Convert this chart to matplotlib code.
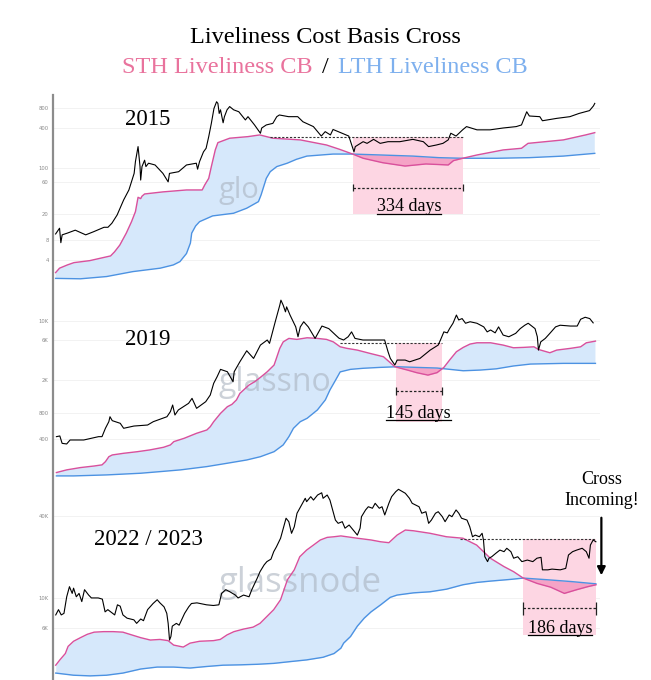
import matplotlib
matplotlib.use("Agg")
import matplotlib.pyplot as plt
from matplotlib.ticker import NullLocator
from matplotlib.lines import Line2D
import numpy as np

plt.rcParams.update({'font.family': 'Liberation Serif'})

# ---------------- 2015 cycle ----------------
p1_x = [2012.65, 2012.68, 2012.69, 2012.70, 2012.74, 2012.80, 2012.88, 2012.94, 2013.02, 2013.05,
        2013.08, 2013.12, 2013.17, 2013.21, 2013.25, 2013.26, 2013.28, 2013.295, 2013.30, 2013.31,
        2013.33, 2013.34, 2013.36, 2013.41, 2013.47, 2013.51, 2013.52, 2013.59, 2013.65, 2013.725,
        2013.735, 2013.75, 2013.78, 2013.80, 2013.82, 2013.84, 2013.86, 2013.88, 2013.89, 2013.90,
        2013.91, 2013.93, 2013.94, 2013.96, 2013.98, 2014.01, 2014.05, 2014.10, 2014.12, 2014.17,
        2014.215, 2014.225, 2014.26, 2014.31, 2014.34, 2014.36, 2014.43, 2014.50, 2014.54, 2014.62,
        2014.68, 2014.71, 2014.75, 2014.77, 2014.81, 2014.89, 2014.90, 2014.93, 2014.94, 2015.00,
        2015.03, 2015.08, 2015.13, 2015.19, 2015.28, 2015.38, 2015.46, 2015.50, 2015.56, 2015.61,
        2015.65, 2015.67, 2015.71, 2015.76, 2015.79, 2015.87, 2015.97, 2016.07, 2016.17, 2016.21,
        2016.23, 2016.25, 2016.27, 2016.35, 2016.37, 2016.48, 2016.58, 2016.65, 2016.73, 2016.76,
        2016.77]
p1_price = [9.9, 12.1, 7.3, 9.6, 10.2, 11.3, 9.6, 10.7, 12.5, 12.5,
            14.4, 19.2, 32.5, 46, 82, 124, 209, 104, 65, 104,
            130, 104, 117, 110, 82, 61, 82, 87, 110, 117,
            95, 124, 174, 197, 296, 470, 790, 1000, 945, 665,
            755, 480, 594, 755, 845, 755, 705, 530, 594, 445,
            333, 400, 445, 470, 594, 630, 594, 594, 497, 420,
            302, 352, 314, 380, 352, 302, 264, 174, 209, 248,
            234, 269, 234, 248, 248, 269, 248, 209, 221, 234,
            264, 333, 302, 375, 420, 375, 375, 400, 420, 445,
            560, 705, 608, 594, 515, 560, 594, 665, 734, 865,
            945]
p1_sth_x = [2012.65, 2012.68, 2012.74, 2012.79, 2012.91, 2013.07, 2013.10, 2013.14, 2013.19, 2013.23,
            2013.26, 2013.28, 2013.30, 2013.31, 2013.33, 2013.47, 2013.65, 2013.77, 2013.79, 2013.82,
            2013.84, 2013.87, 2013.89, 2013.98, 2014.12, 2014.21, 2014.31, 2014.52, 2014.72, 2014.82,
            2014.92, 2015.00, 2015.15, 2015.32, 2015.48, 2015.65, 2015.69, 2015.76, 2015.87, 2016.07,
            2016.21, 2016.26, 2016.53, 2016.70, 2016.77]
p1_sth = [2.57, 3.0, 3.36, 3.64, 3.9, 4.6, 5.3, 6.7, 10.2, 15.2,
          21.6, 35.6, 34, 37, 40, 43, 46, 46, 55, 69,
          104, 186, 240, 280, 296, 314, 280, 264, 221, 190,
          161, 139, 119, 106, 114, 110, 128, 139, 156, 186,
          197, 234, 264, 314, 340]
p1_lth_x = [2012.65, 2012.84, 2013.04, 2013.24, 2013.45, 2013.55, 2013.60, 2013.65, 2013.68, 2013.69,
            2013.72, 2013.75, 2013.85, 2014.01, 2014.11, 2014.20, 2014.22, 2014.26, 2014.29, 2014.34,
            2014.42, 2014.49, 2014.57, 2014.77, 2014.92, 2015.13, 2015.38, 2015.58, 2015.76, 2016.02,
            2016.27, 2016.53, 2016.77]
p1_lth = [2.1, 2.07, 2.24, 2.66, 3.0, 3.36, 3.77, 5.0, 7.2, 10.2,
          13.1, 15.2, 18.6, 20.4, 24.3, 30.6, 38.6, 69, 87, 104,
          117, 134, 150, 161, 161, 156, 150, 142, 139, 139,
          142, 150, 165]

# ---------------- 2019 cycle ----------------
p2_x = [2015.99, 2016.02, 2016.04, 2016.08, 2016.11, 2016.23, 2016.36, 2016.39, 2016.42, 2016.45,
        2016.46, 2016.48, 2016.55, 2016.58, 2016.67, 2016.79, 2016.84, 2016.96, 2016.99, 2017.01,
        2017.03, 2017.06, 2017.15, 2017.18, 2017.22, 2017.30, 2017.34, 2017.37, 2017.40, 2017.43,
        2017.49, 2017.54, 2017.55, 2017.60, 2017.66, 2017.72, 2017.78, 2017.84, 2017.86, 2017.91,
        2017.95, 2017.96, 2017.98, 2018.00, 2018.01, 2018.04, 2018.09, 2018.11, 2018.13, 2018.16,
        2018.20, 2018.26, 2018.32, 2018.38, 2018.44, 2018.47, 2018.51, 2018.55, 2018.58, 2018.61,
        2018.68, 2018.77, 2018.87, 2018.90, 2018.92, 2018.96, 2018.98, 2019.05, 2019.09, 2019.18,
        2019.27, 2019.34, 2019.36, 2019.39, 2019.42, 2019.44, 2019.47, 2019.50, 2019.52, 2019.55,
        2019.58, 2019.62, 2019.68, 2019.74, 2019.77, 2019.80, 2019.84, 2019.87, 2019.91, 2019.96,
        2020.02, 2020.06, 2020.10, 2020.13, 2020.19, 2020.21, 2020.22, 2020.24, 2020.28, 2020.32,
        2020.37, 2020.41, 2020.50, 2020.56, 2020.59, 2020.63, 2020.67, 2020.70]
p2_price = [423, 431, 352, 346, 386, 386, 423, 423, 532, 638,
            731, 656, 610, 532, 566, 582, 638, 731, 840, 1008,
            766, 880, 1056, 1210, 920, 1104, 1326, 1828, 2188, 2680,
            2512, 1910, 2512, 3304, 4466, 3620, 5220, 6000, 5470, 9880,
            15600, 17900, 15600, 13000, 14900, 11900, 8600, 6560, 8600, 9900,
            8600, 6270, 8800, 8200, 6870, 6300, 6000, 6560, 7500, 6270,
            6000, 6000, 6000, 4350, 3620, 3020, 3460, 3460, 3300, 3620,
            4550, 5220, 6000, 7500, 7300, 8200, 9500, 11900, 10400, 10800,
            9500, 9900, 9500, 8600, 7500, 7900, 7300, 8600, 6870, 6560,
            7200, 8200, 9000, 9500, 8200, 6560, 4550, 5700, 6270, 7200,
            8600, 9000, 8800, 8800, 10600, 11200, 10800, 9600]
p2_sth_x = [2015.99, 2016.08, 2016.20, 2016.32, 2016.39, 2016.42, 2016.45, 2016.48, 2016.58, 2016.70,
            2016.81, 2016.93, 2016.99, 2017.02, 2017.11, 2017.22, 2017.31, 2017.34, 2017.37, 2017.43,
            2017.49, 2017.53, 2017.57, 2017.60, 2017.68, 2017.73, 2017.78, 2017.84, 2017.90, 2017.92,
            2017.95, 2017.98, 2018.03, 2018.10, 2018.19, 2018.28, 2018.36, 2018.42, 2018.48, 2018.54,
            2018.63, 2018.74, 2018.86, 2018.96, 2019.07, 2019.15, 2019.25, 2019.33, 2019.39, 2019.44,
            2019.50, 2019.56, 2019.62, 2019.68, 2019.80, 2019.91, 2020.00, 2020.09, 2020.18, 2020.22,
            2020.32, 2020.38, 2020.50, 2020.59, 2020.64, 2020.72]
p2_sth = [158, 170, 181, 189, 195, 213, 244, 256, 268, 280,
          294, 316, 337, 369, 404, 464, 508, 556, 638, 802,
          962, 1026, 1160, 1388, 1744, 1910, 2152, 2512, 3020, 3620,
          4770, 5700, 6270, 6100, 6380, 6270, 6100, 5700, 4980, 4770,
          4550, 4160, 3790, 2880, 2630, 2450, 2290, 2450, 2830, 3460,
          4350, 4900, 5370, 5560, 5560, 5220, 4850, 4900, 4980, 4630,
          4230, 4550, 4770, 4980, 5560, 5820]
p2_lth_x = [2015.99, 2016.14, 2016.43, 2016.73, 2016.90, 2017.08, 2017.31, 2017.49, 2017.66, 2017.78,
            2017.90, 2017.98, 2018.03, 2018.07, 2018.13, 2018.19, 2018.28, 2018.35, 2018.39, 2018.44,
            2018.48, 2018.57, 2018.68, 2018.83, 2018.98, 2019.15, 2019.33, 2019.56, 2019.71, 2019.85,
            2020.00, 2020.15, 2020.44, 2020.72]
p2_lth = [144, 144, 148, 155, 162, 170, 186, 204, 223, 244,
          280, 337, 423, 532, 638, 700, 880, 1160, 1520, 2000,
          2500, 2680, 2760, 2830, 2880, 2830, 2780, 2580, 2630, 2720,
          2940, 3100, 3160, 3160]

# ---------------- 2022/2023 cycle ----------------
p3_x = [2019.36, 2019.38, 2019.40, 2019.42, 2019.44, 2019.46, 2019.48, 2019.49, 2019.51, 2019.53,
        2019.55, 2019.57, 2019.60, 2019.62, 2019.67, 2019.70, 2019.72, 2019.74, 2019.79, 2019.81,
        2019.83, 2019.85, 2019.88, 2019.93, 2019.95, 2019.98, 2020.00, 2020.03, 2020.07, 2020.10,
        2020.12, 2020.15, 2020.17, 2020.18, 2020.19, 2020.20, 2020.21, 2020.24, 2020.26, 2020.29,
        2020.30, 2020.33, 2020.35, 2020.39, 2020.46, 2020.51, 2020.55, 2020.57, 2020.60, 2020.63,
        2020.67, 2020.69, 2020.73, 2020.77, 2020.79, 2020.83, 2020.85, 2020.88, 2020.90, 2020.93,
        2020.95, 2020.97, 2021.00, 2021.02, 2021.04, 2021.06, 2021.08, 2021.10, 2021.12, 2021.14,
        2021.16, 2021.18, 2021.19, 2021.22, 2021.24, 2021.27, 2021.30, 2021.31, 2021.34, 2021.36,
        2021.38, 2021.40, 2021.42, 2021.45, 2021.47, 2021.50, 2021.53, 2021.56, 2021.58, 2021.59,
        2021.62, 2021.64, 2021.67, 2021.69, 2021.72, 2021.74, 2021.76, 2021.79, 2021.81, 2021.84,
        2021.86, 2021.89, 2021.91, 2021.94, 2021.96, 2022.01, 2022.03, 2022.06, 2022.08, 2022.10,
        2022.13, 2022.15, 2022.18, 2022.20, 2022.23, 2022.25, 2022.28, 2022.30, 2022.32, 2022.36,
        2022.38, 2022.40, 2022.42, 2022.45, 2022.47, 2022.48, 2022.49, 2022.51, 2022.52, 2022.54,
        2022.57, 2022.60, 2022.63, 2022.65, 2022.68, 2022.70, 2022.73, 2022.76, 2022.80, 2022.84,
        2022.87, 2022.90, 2022.91, 2022.95, 2022.98, 2023.04, 2023.08, 2023.10, 2023.13, 2023.16,
        2023.20, 2023.23, 2023.25, 2023.26, 2023.28, 2023.30]
p3_price = [7500, 8200, 7500, 7700, 10200, 12100, 10800, 11800, 10200, 10800,
            9400, 11500, 10500, 10000, 10000, 9800, 7900, 8200, 7500, 8900,
            8700, 7500, 7100, 6900, 6500, 7000, 6800, 8200, 9100, 9700,
            9200, 8600, 7700, 6500, 4900, 5200, 6200, 6500, 6300, 7300,
            7700, 8600, 9100, 9200, 8900, 8800, 8900, 10800, 11500, 11100,
            10500, 10000, 10500, 10200, 11500, 14000, 15600, 17500, 18500, 19300,
            21900, 23800, 27500, 32600, 38600, 36400, 29900, 33400, 42000, 45700,
            49700, 54100, 51100, 55600, 52500, 57200, 59400, 54100, 57200, 52500,
            44400, 37400, 35400, 36400, 32600, 34400, 31600, 29000, 32600, 39600,
            44400, 46900, 45700, 49700, 45700, 46900, 40800, 49700, 55600, 60500,
            63000, 60500, 58900, 54100, 49700, 46900, 42000, 43100, 35400, 37400,
            42000, 43100, 39600, 36400, 40800, 39600, 44400, 42000, 38600, 37400,
            33400, 28200, 29000, 28200, 29900, 26700, 20100, 18500, 19600, 20100,
            21300, 22500, 21900, 23200, 21900, 19600, 20100, 18500, 19000, 18500,
            19600, 19900, 16100, 16100, 16300, 16100, 16500, 20700, 21900, 22500,
            23200, 21900, 19600, 24500, 26700, 25900]
p3_sth_x = [2019.36, 2019.39, 2019.43, 2019.45, 2019.49, 2019.54, 2019.59, 2019.64, 2019.71, 2019.78,
            2019.85, 2019.90, 2019.98, 2020.05, 2020.12, 2020.18, 2020.22, 2020.29, 2020.34, 2020.41,
            2020.51, 2020.56, 2020.61, 2020.66, 2020.73, 2020.80, 2020.85, 2020.90, 2020.95, 2021.00,
            2021.05, 2021.10, 2021.14, 2021.19, 2021.24, 2021.29, 2021.34, 2021.39, 2021.44, 2021.56,
            2021.66, 2021.73, 2021.79, 2021.85, 2021.91, 2021.97, 2022.09, 2022.21, 2022.33, 2022.43,
            2022.53, 2022.63, 2022.70, 2022.77, 2022.87, 2022.97, 2023.07, 2023.16, 2023.24, 2023.30]
p3_sth = [3200, 3500, 3900, 4400, 4800, 5100, 5400, 5600, 5650, 5650,
          5600, 5400, 5100, 4900, 4950, 4850, 4500, 4350, 4650, 4800,
          4850, 4950, 5350, 5650, 5900, 6100, 6500, 7300, 8200, 9700,
          13600, 16100, 20100, 22500, 24500, 26700, 27900, 28200, 28600, 27500,
          26700, 25900, 25500, 29000, 31600, 31200, 29900, 28200, 27500, 24500,
          19600, 17000, 15600, 14000, 12800, 12000, 10800, 11500, 12100, 12500]
p3_lth_x = [2019.36, 2019.49, 2019.61, 2019.73, 2019.85, 2019.98, 2020.10, 2020.22, 2020.34, 2020.46,
            2020.58, 2020.71, 2020.83, 2020.95, 2021.07, 2021.19, 2021.31, 2021.39, 2021.44, 2021.46,
            2021.51, 2021.56, 2021.61, 2021.66, 2021.73, 2021.80, 2021.85, 2021.97, 2022.09, 2022.21,
            2022.33, 2022.43, 2022.53, 2022.68, 2022.77, 2022.95, 2023.12, 2023.30]
p3_lth = [2800, 2700, 2670, 2700, 2800, 3000, 3100, 3100, 3050, 3130,
          3200, 3220, 3250, 3300, 3400, 3500, 3660, 3900, 4270, 4650,
          5200, 6200, 7100, 7900, 8900, 10100, 10500, 10900, 11100, 11600,
          12500, 13000, 13300, 13700, 14000, 13600, 13200, 12700]

# y tick labels per panel
p1_ticks = [4, 8, 20, 60, 100, 400, 800]
p1_labels = ['4', '8', '20', '60', '100', '400', '800']
p2_ticks = [400, 800, 2000, 6000, 10000]
p2_labels = ['400', '800', '2K', '6K', '10K']
p3_ticks = [6000, 10000, 40000]
p3_labels = ['6K', '10K', '40K']

# cross windows: start, end, top, bottom, bracket level, text x, text y, text, dashed start
cross1 = (2014.92, 2015.76, 296, 20, 50, 2015.35, 25.7, '334 days', 2014.29)
cross2 = (2018.97, 2019.37, 5470, 638, 1480, 2019.17, 802, '145 days', 2018.48)
cross3 = (2022.77, 2023.30, 27100, 5300, 8400, 2023.04, 6000, '186 days', 2022.31)

STH_C = '#d9509c'
LTH_C = '#4c92e2'
BLUE_FILL = '#d6e8fb'
PINK_FILL = '#f5a3c6'
RECT_C = '#fdd6e3'

fig = plt.figure(figsize=(6.51, 6.80), dpi=100)
day_labels = []

def make_ax(rect, xlim, ylim, ticks, labels):
    ax = fig.add_axes(rect)
    ax.set_yscale('log')
    ax.set_xlim(*xlim)
    ax.set_ylim(*ylim)
    ax.set_yticks(ticks)
    ax.set_yticklabels(labels, family='DejaVu Sans')
    ax.yaxis.set_minor_locator(NullLocator())
    ax.set_xticks([])
    ax.tick_params(axis='y', length=0, pad=3, labelsize=3.8, labelcolor='#8a8a8a')
    for s in ax.spines.values():
        s.set_visible(False)
    ax.grid(axis='y', color='#f0f0f0', lw=0.6)
    ax.set_axisbelow(True)
    ax.patch.set_alpha(0)
    return ax

def draw_panel(ax, px, pp, sx, sv, lx, lv, cross, label, mark, mark_size):
    x0, x1, top, bot, brk, tx, ty, txt, dash0 = cross
    ax.fill_between([x0, x1], bot, top, color=RECT_C, lw=0, zorder=1)
    grid = np.union1d(sx, lx)
    s = 10 ** np.interp(grid, sx, np.log10(sv))
    l = 10 ** np.interp(grid, lx, np.log10(lv))
    ax.fill_between(grid, l, s, where=s >= l, interpolate=True, color=BLUE_FILL, lw=0, zorder=2)
    ax.fill_between(grid, l, s, where=s < l, interpolate=True, color=PINK_FILL, lw=0, zorder=2)
    ax.text(0.302, mark[1], mark[0], transform=ax.transAxes, fontsize=mark_size,
            family='Open Sans', color='#aab3bf', alpha=0.6, va='center', zorder=2.5)
    ax.plot(lx, lv, color=LTH_C, lw=1.0, zorder=3)
    ax.plot(sx, sv, color=STH_C, lw=1.0, zorder=3)
    ax.plot(px, pp, color='black', lw=0.8, zorder=4)
    ax.hlines(top, dash0, x1, colors='#333333', lw=0.8, linestyles=(0, (2, 1.5)), zorder=3.5)
    ax.hlines(brk, x0, x1, colors='#222222', lw=0.9, linestyles=(0, (2, 1.5)), zorder=3.5)
    ax.vlines([x0, x1], brk / 1.12, brk * 1.12, colors='#222222', lw=0.9, zorder=3.5)
    t = ax.text(tx, ty, txt, fontsize=13, ha='center', va='center', zorder=5)
    day_labels.append(t)
    ax.text(0.174, label[1], label[0], transform=ax.transAxes, fontsize=16.5,
            ha='center', va='center', zorder=5)

ax1 = make_ax([53 / 651, 1 - 290 / 680, 547 / 651, 194 / 680], (2012.63, 2016.81), (1.4, 1222),
              p1_ticks, p1_labels)
draw_panel(ax1, p1_x, p1_price, p1_sth_x, p1_sth, p1_lth_x, p1_lth, cross1,
           ('2015', 0.881), ('glo', 0.515), 21)

ax2 = make_ax([53 / 651, 1 - 478 / 680, 547 / 651, 186 / 680], (2015.96, 2020.76), (136, 22400),
              p2_ticks, p2_labels)
draw_panel(ax2, p2_x, p2_price, p2_sth_x, p2_sth, p2_lth_x, p2_lth, cross2,
           ('2019', 0.742), ('glassno', 0.511), 23)

ax3 = make_ax([53 / 651, 0.0, 547 / 651, 198 / 680], (2019.34, 2023.33), (2490, 71300),
              p3_ticks, p3_labels)
draw_panel(ax3, p3_x, p3_price, p3_sth_x, p3_sth, p3_lth_x, p3_lth, cross3,
           ('2022 / 2023', 0.711), ('glassnode', 0.49), 25)

ax3.text(2023.34, 62200, 'Cross\nIncoming!', fontsize=13, ha='center', va='center',
         linespacing=1.3, zorder=6)
ax3.annotate('', xy=(2023.34, 14000), xytext=(2023.34, 40800),
             arrowprops=dict(arrowstyle='-|>', color='black', lw=1.6, mutation_scale=12),
             annotation_clip=False, zorder=6)

# one continuous grey axis line down the left side
fig.add_artist(Line2D([53 / 651, 53 / 651], [0, 1 - 95 / 680], color='#8c8c8c', lw=1.6))

# title
fig.text(0.5, 1 - 43 / 680, 'Liveliness Cost Basis Cross', fontsize=17.5, ha='center', va='baseline')
fig.text(313 / 651, 1 - 73 / 680, 'STH Liveliness CB', fontsize=17.5, ha='right', va='baseline',
         color='#e9739d')
fig.text(325 / 651, 1 - 73 / 680, '/', fontsize=17.5, ha='center', va='baseline')
fig.text(338 / 651, 1 - 73 / 680, 'LTH Liveliness CB', fontsize=17.5, ha='left', va='baseline',
         color='#7eb0ee')

# underline the day counts
fig.canvas.draw()
r = fig.canvas.get_renderer()
for t in day_labels:
    bb = t.get_window_extent(renderer=r)
    yl = bb.y0 + 1.5
    fig.add_artist(Line2D([bb.x0 / fig.bbox.width, bb.x1 / fig.bbox.width],
                          [yl / fig.bbox.height, yl / fig.bbox.height],
                          color='black', lw=0.9, zorder=6))

fig.savefig('out.png', dpi=100)
